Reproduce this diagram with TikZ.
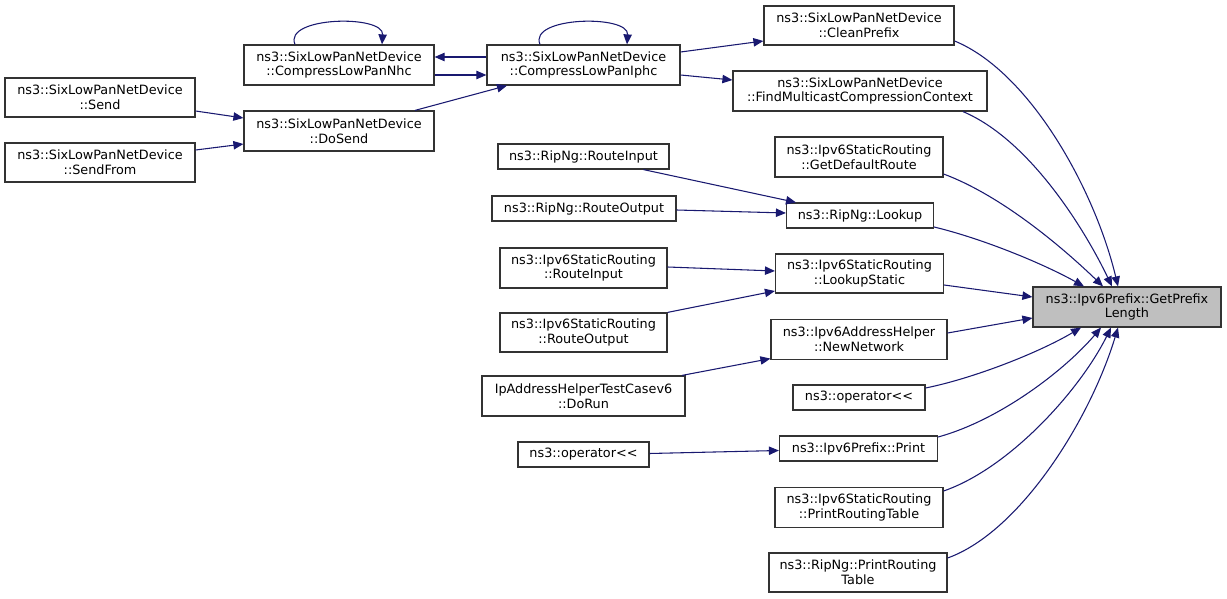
\documentclass[tikz,border=0pt]{standalone}
\usepackage{fontspec}
\setmainfont{DejaVu Sans}
\usetikzlibrary{arrows.meta,calc}
\definecolor{edgec}{HTML}{191970}
\definecolor{hlfill}{HTML}{BFBFBF}
\begin{document}
\begin{tikzpicture}[x=0.75pt,y=-0.75pt,
  box/.style={draw=black!80, line width=0.9pt, fill=white, inner sep=0pt, align=center,
    font=\fontsize{9.6}{11}\selectfont, minimum height=30pt},
  boxone/.style={box, minimum height=18.75pt},
  hl/.style={fill=hlfill},
  edge/.style={draw=edgec, line width=0.8pt, -{Triangle[length=7.5pt,width=6.3pt]}}]
\useasboundingbox (0,0) rectangle (1227,599);

% column 1
\node[box, minimum width=142.5pt, minimum height=29.25pt] (send) at (100,97.5) {ns3::SixLowPanNetDevice\\::Send};
\node[box, minimum width=142.5pt, minimum height=29.25pt] (sendfrom) at (100,162.5) {ns3::SixLowPanNetDevice\\::SendFrom};
% column 2
\node[box, minimum width=142.5pt] (nhc) at (339,65) {ns3::SixLowPanNetDevice\\::CompressLowPanNhc};
\node[box, minimum width=142.5pt] (dosend) at (339,131) {ns3::SixLowPanNetDevice\\::DoSend};
% column 3
\node[box, minimum width=144.75pt] (iphc) at (583.5,65) {ns3::SixLowPanNetDevice\\::CompressLowPanIphc};
\node[boxone, minimum width=128.25pt] (ripri) at (583.5,156.5) {ns3::RipNg::RouteInput};
\node[boxone, minimum width=138pt] (ripro) at (584,208.5) {ns3::RipNg::RouteOutput};
\node[box, minimum width=125.25pt] (ipri) at (583.5,268) {ns3::Ipv6StaticRouting\\::RouteInput};
\node[box, minimum width=125.25pt, minimum height=29.25pt] (ipro) at (583.5,332.5) {ns3::Ipv6StaticRouting\\::RouteOutput};
\node[box, minimum width=152.25pt] (dorun) at (583.5,396) {IpAddressHelperTestCasev6\\::DoRun};
\node[boxone, minimum width=98.25pt] (opl) at (583.5,454.5) {ns3::operator<{}<};
% column 4
\node[box, minimum width=142.5pt, minimum height=29.25pt] (clean) at (859,25.5) {ns3::SixLowPanNetDevice\\::CleanPrefix};
\node[box, minimum width=190.5pt] (find) at (860,91) {ns3::SixLowPanNetDevice\\::FindMulticastCompressionContext};
\node[box, minimum width=126pt] (getdef) at (859,157) {ns3::Ipv6StaticRouting\\::GetDefaultRoute};
\node[boxone, minimum width=110.25pt] (lookup) at (860,215.5) {ns3::RipNg::Lookup};
\node[box, minimum width=126pt, minimum height=29.25pt] (lstatic) at (859.5,273.5) {ns3::Ipv6StaticRouting\\::LookupStatic};
\node[box, minimum width=132pt] (newnet) at (859,339.5) {ns3::Ipv6AddressHelper\\::NewNetwork};
\node[boxone, minimum width=99pt] (opr) at (859,397.5) {ns3::operator<{}<};
\node[boxone, minimum width=118.5pt] (print) at (858.5,448.5) {ns3::Ipv6Prefix::Print};
\node[box, minimum width=126pt] (prt) at (859,507.5) {ns3::Ipv6StaticRouting\\::PrintRoutingTable};
\node[box, minimum width=133.5pt, minimum height=29.25pt] (ripprt) at (858,572.5) {ns3::RipNg::PrintRouting\\Table};
% target
\node[box, hl, minimum width=141pt] (gpl) at (1127,307) {ns3::Ipv6Prefix::GetPrefix\\Length};

% left edges
\draw[edge] ($(send.east)+(0,13.5)$) -- ($(dosend.west)+(0,-13)$);
\draw[edge] ($(sendfrom.east)+(0,-12.5)$) -- ($(dosend.west)+(0,13)$);
\draw[edge] ($(dosend.north)+(76,0)$) -- ($(iphc.south)+(-76.5,0)$);
\draw[edge] ($(nhc.east)+(0,10)$) -- ($(iphc.west)+(0,10)$);
\draw[edge] ($(iphc.west)+(0,-8)$) -- ($(nhc.east)+(0,-8)$);
\draw[edge] ($(nhc.north)+(-44,0)$) .. controls ($(nhc.north)+(-56,-28)$) and ($(nhc.north)+(45,-30)$) .. ($(nhc.north)+(43,0)$);
\draw[edge] ($(iphc.north)+(-43.5,0)$) .. controls ($(iphc.north)+(-55.5,-28)$) and ($(iphc.north)+(45.5,-30)$) .. ($(iphc.north)+(43.5,0)$);
\draw[edge] ($(iphc.east)+(0,-13)$) -- ($(clean.west)+(0,15.5)$);
\draw[edge] ($(iphc.east)+(0,10)$) -- ($(find.west)+(0,-11)$);
\draw[edge] ($(ripri.south)+(60,0)$) -- ($(lookup.north)+(-64,0)$);
\draw[edge] ($(ripro.east)+(0,1.5)$) -- ($(lookup.west)+(0,-2.5)$);
\draw[edge] ($(ipri.east)+(0,-1)$) -- ($(lstatic.west)+(0,-2.5)$);
\draw[edge] (ipro.north east) -- ($(lstatic.west)+(0,17.5)$);
\draw[edge] ($(dorun.north)+(98.5,0)$) -- ($(newnet.south west)+(0,-1.5)$);
\draw[edge] ($(opl.east)+(0,-1)$) -- ($(print.west)+(0,2)$);

% edges into target
\draw[edge] ($(clean.east)+(0,15.5)$) .. controls (1030,72) and (1095,190) .. ($(gpl.north)+(-9,0)$);
\draw[edge] ($(find.south)+(103,0)$) .. controls (1030,140) and (1085,230) .. ($(gpl.north)+(-15,0)$);
\draw[edge] ($(getdef.east)+(0,17)$) .. controls (1000,195) and (1060,245) .. ($(gpl.north)+(-24,0)$);
\draw[edge] ($(lookup.east)+(0,11.5)$) .. controls (980,238) and (1040,262) .. ($(gpl.north)+(-43,0)$);
\draw[edge] ($(lstatic.east)+(0,11.5)$) -- ($(gpl.west)+(0,-10)$);
\draw[edge] ($(newnet.east)+(0,-6.5)$) -- ($(gpl.west)+(0,11)$);
\draw[edge] ($(opr.east)+(0,-9.5)$) .. controls (975,378) and (1040,352) .. ($(gpl.south)+(-46,0)$);
\draw[edge] ($(print.east)+(0,-11.5)$) .. controls (1000,420) and (1065,370) .. ($(gpl.south)+(-26,0)$);
\draw[edge] ($(prt.east)+(0,-16.5)$) .. controls (1010,468) and (1080,390) .. ($(gpl.south)+(-16,0)$);
\draw[edge] ($(ripprt.east)+(0,-14.5)$) .. controls (1020,532) and (1090,420) .. ($(gpl.south)+(-9,0)$);
\end{tikzpicture}
\end{document}
